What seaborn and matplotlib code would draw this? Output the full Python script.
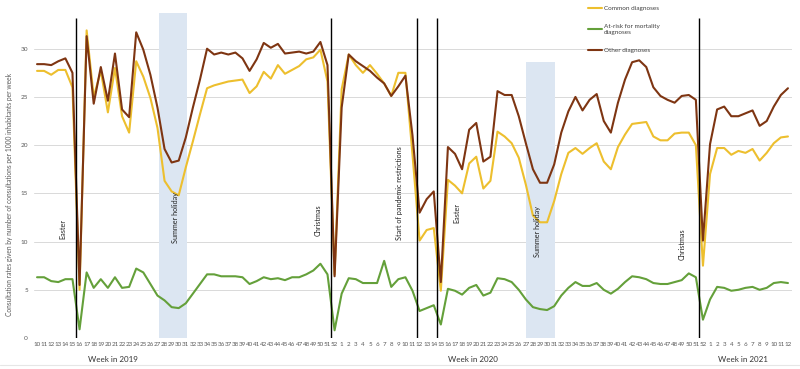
import matplotlib
matplotlib.use("Agg")
import matplotlib.pyplot as plt
import seaborn as sns
import pandas as pd
from matplotlib.lines import Line2D

# week labels: 2019 wk 10-52, 2020 wk 1-52, 2021 wk 1-12
weeks_2019 = [str(w) for w in range(10, 53)]
weeks_2020 = [str(w) for w in range(1, 53)]
weeks_2021 = [str(w) for w in range(1, 13)]
week_labels = weeks_2019 + weeks_2020 + weeks_2021

# consultation rates per 1000 inhabitants per week
common = [27.7, 27.7, 27.3, 27.8, 27.8, 26.0, 5.0, 31.9, 25.0, 27.7,
          23.4, 28.0, 23.0, 21.3, 28.7, 27.1, 24.9, 21.8, 16.3, 15.2,
          14.8, 17.7, 20.4, 23.2, 25.9, 26.2, 26.4, 26.6,
          26.7, 26.8, 25.4, 26.1, 27.6, 26.9, 28.3, 27.4, 27.8, 28.2,
          28.9, 29.1, 29.9, 26.6, 6.6,
          25.8, 29.4, 28.3, 27.5, 28.3, 27.4, 26.4, 25.1, 27.5, 27.5, 19.0,
          10.1, 11.2, 11.4, 4.9, 16.4, 15.8, 15.0, 18.1, 18.8, 15.5,
          16.3, 21.4, 20.9, 20.2, 18.7, 15.9, 12.7, 12.0, 12.0, 14.2,
          17.0, 19.2, 19.7, 19.1, 19.7, 20.2, 18.3, 17.5,
          19.8, 21.1, 22.2, 22.3, 22.4, 20.9, 20.5, 20.5, 21.2, 21.3,
          21.3, 20.0, 7.5,
          17.0, 19.7, 19.7, 19.0, 19.4, 19.2, 19.6, 18.4, 19.2, 20.2, 20.8, 20.9]

at_risk = [6.3, 6.3, 5.9, 5.8, 6.1, 6.1, 0.9, 6.8, 5.2, 6.1,
           5.2, 6.3, 5.2, 5.3, 7.2, 6.8, 5.6, 4.4, 3.9, 3.2,
           3.1, 3.6, 4.6, 5.6, 6.6, 6.6, 6.4, 6.4,
           6.4, 6.3, 5.6, 5.9, 6.3, 6.1, 6.2, 6.0, 6.3, 6.3,
           6.6, 7.0, 7.7, 6.6, 0.8,
           4.6, 6.2, 6.1, 5.7, 5.7, 5.7, 8.0, 5.3, 6.1, 6.3, 4.9,
           2.8, 3.1, 3.4, 1.4, 5.1, 4.9, 4.5, 5.2, 5.5, 4.4,
           4.7, 6.2, 6.1, 5.8, 5.0, 4.0, 3.2, 3.0, 2.9, 3.3,
           4.4, 5.2, 5.8, 5.4, 5.4, 5.7, 5.0, 4.6,
           5.1, 5.8, 6.4, 6.3, 6.1, 5.7, 5.6, 5.6, 5.8, 6.0,
           6.7, 6.3, 1.9,
           4.0, 5.3, 5.2, 4.9, 5.0, 5.2, 5.3, 5.0, 5.2, 5.7, 5.8, 5.7]

other = [28.4, 28.4, 28.3, 28.7, 29.0, 27.5, 5.5, 31.3, 24.3, 28.1,
         24.6, 29.5, 23.7, 22.9, 31.7, 29.9, 27.3, 23.9, 19.6, 18.2,
         18.4, 20.8, 23.9, 26.8, 30.0, 29.4, 29.6, 29.4,
         29.6, 29.0, 27.7, 28.9, 30.6, 30.1, 30.5, 29.5, 29.6, 29.7,
         29.5, 29.7, 30.7, 28.3, 6.4,
         23.9, 29.4, 28.7, 28.2, 27.7, 27.0, 26.4, 25.1, 26.1, 27.2, 21.0,
         13.0, 14.4, 15.2, 5.8, 19.8, 19.1, 17.5, 21.6, 22.3, 18.3,
         18.8, 25.6, 25.2, 25.2, 23.0, 20.2, 17.5, 16.1, 16.1, 18.0,
         21.3, 23.5, 25.0, 23.6, 24.7, 25.3, 22.5, 21.3,
         24.4, 26.8, 28.6, 28.8, 28.1, 26.0, 25.1, 24.7, 24.4, 25.1,
         25.2, 24.7, 10.1,
         20.1, 23.7, 24.0, 23.0, 23.0, 23.3, 23.6, 22.0, 22.5, 24.0, 25.2, 25.9]

groups = ["Common diagnoses", "At-risk for mortality diagnoses", "Other diagnoses"]
legend_labels = ["Common diagnoses", "At-risk for mortality\ndiagnoses", "Other diagnoses"]
colors = {"Common diagnoses": "#EDBF2E",
          "At-risk for mortality diagnoses": "#64A03A",
          "Other diagnoses": "#7E3512"}

events = ["Easter", "Christmas", "Start of pandemic restrictions", "Easter", "Christmas"]
holidays = ["Summer holiday", "Summer holiday"]

n = len(week_labels)
df = pd.DataFrame({
    "week": list(range(n)) * 3,
    "rate": common + at_risk + other,
    "group": [groups[0]] * n + [groups[1]] * n + [groups[2]] * n,
})

sns.set_theme(style="white")
plt.rcParams["font.family"] = ["Lato", "DejaVu Sans"]

W, H = 800, 369
fig = plt.figure(figsize=(W / 100, H / 100), dpi=100)
ax = fig.add_axes([33.5 / W, 1 - 338 / H, 758 / W, 337.5 / H])

# summer holiday shading
for (x0, x1, top) in [(17.2, 21.2, 33.7), (69.0, 73.1, 28.6)]:
    ax.axvspan(x0, x1, ymin=0, ymax=top / 35, color="#DCE6F2", lw=0, zorder=1)

sns.lineplot(data=df, x="week", y="rate", hue="group", hue_order=groups,
             palette=colors, estimator=None, lw=1.5, ax=ax, zorder=2)

# event lines
event_x = [5.5, 41.5, 53.6, 56.45, 93.4]
ax.vlines(event_x, 0, 33.2, color="black", lw=1.0, zorder=3)

label_pos = [(3.7, 11.3), (39.7, 12.2), (51.1, 15.0), (59.2, 13.0), (91.05, 9.7)]
for name, (x, y) in zip(events, label_pos):
    ax.text(x, y, name, rotation=90, ha="center", va="center", fontsize=5.2, color="#222222")
for name, (x, y) in zip(holidays, [(19.6, 12.5), (70.7, 11.0)]):
    ax.text(x, y, name, rotation=90, ha="center", va="center", fontsize=5.2, color="#222222")

ax.set_xlim(-0.5, n - 0.5)
ax.set_ylim(0, 35)
ax.set_yticks(range(0, 31, 5))
ax.set_xticks(range(n))
ax.set_xticklabels(week_labels)
ax.tick_params(axis="x", length=0, pad=3, labelsize=4.5, labelcolor="#595959")
ax.tick_params(axis="y", length=0, pad=4, labelsize=4.6, labelcolor="#595959")
ax.yaxis.grid(True, color="#D9D9D9", lw=0.7)
ax.xaxis.grid(False)
for s in ax.spines.values():
    s.set_visible(False)
ax.set_xlabel("")
ax.set_ylabel("")

handles, _ = ax.get_legend_handles_labels()
ax.legend(handles, legend_labels, loc="upper left", bbox_to_anchor=(582 / W, 1.0),
          bbox_transform=fig.transFigure, frameon=False, fontsize=4.6,
          handlelength=2.3, handletextpad=0.2, labelspacing=2.0,
          labelcolor="#404040")

fig.text(10 / W, 1 - 195 / H,
         "Consultation rates given by number of consultations per 1000 inhabitants per week",
         rotation=90, ha="center", va="center", fontsize=4.8, color="#595959")
for label, xc in [("Week in 2019", 113), ("Week in 2020", 473), ("Week in 2021", 743)]:
    fig.text(xc / W, 1 - 359 / H, label, ha="center", va="center", fontsize=5.8, color="#333333")

fig.add_artist(Line2D([0, 1], [1 - 365 / H] * 2, color="#E6E6E6", lw=0.8))

fig.savefig("out.png", dpi=100)
